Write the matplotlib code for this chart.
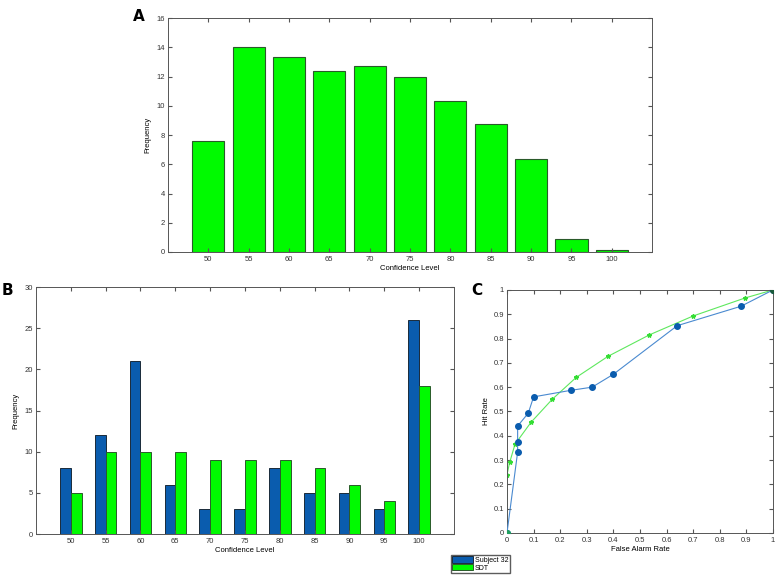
import matplotlib

matplotlib.use("Agg")
import matplotlib.pyplot as plt
import numpy as np

BLUE = "#0a5cae"
LINE_BLUE = "#4a8ad0"
GREEN = "#00fa00"
EDGE = "#2a5a2a"
AX = "#555555"

levels = ["50", "55", "60", "65", "70", "75", "80", "85", "90", "95", "100"]

# panel A: SDT-predicted frequencies
sdt_freq = [7.6, 14.0, 13.35, 12.35, 12.7, 12.0, 10.3, 8.75, 6.35, 0.9, 0.11]

# panel B: subject 32 vs SDT counts
subj_counts = [8, 12, 21, 6, 3, 3, 8, 5, 5, 3, 26]
sdt_counts = [5, 10, 10, 10, 9, 9, 9, 8, 6, 4, 18]

# panel C: ROC points
subj_far = [0, 0.04, 0.04, 0.04, 0.08, 0.10, 0.24, 0.32, 0.40, 0.64, 0.88, 1.0]
subj_hr = [0, 0.333, 0.373, 0.44, 0.493, 0.56, 0.587, 0.60, 0.653, 0.853, 0.933, 1.0]
sdt_far = [0, 0, 0.01, 0.03, 0.09, 0.17, 0.26, 0.38, 0.535, 0.70, 0.895, 1.0]
sdt_hr = [0, 0.24, 0.29, 0.365, 0.455, 0.55, 0.64, 0.727, 0.815, 0.893, 0.967, 1.0]

plt.rcParams.update(
    {
        "font.family": ["Liberation Sans", "DejaVu Sans"],
        "font.size": 5.5,
        "axes.edgecolor": AX,
        "axes.linewidth": 0.7,
        "xtick.direction": "in",
        "ytick.direction": "in",
        "xtick.top": True,
        "ytick.right": True,
        "xtick.major.size": 3,
        "ytick.major.size": 3,
        "xtick.color": AX,
        "ytick.color": AX,
        "xtick.labelcolor": "#333333",
        "ytick.labelcolor": "#333333",
        "xtick.major.pad": 3,
        "ytick.major.pad": 2,
    }
)

fig = plt.figure(figsize=(7.77, 5.76), dpi=100)
axA = fig.add_axes([0.2162, 0.5625, 0.623, 0.406])
axB = fig.add_axes([0.0463, 0.0729, 0.538, 0.4288])
axC = fig.add_axes([0.6525, 0.0747, 0.3423, 0.4219])

x = np.arange(1, len(levels) + 1)

# --- A ---
axA.bar(x, sdt_freq, width=0.8, color=GREEN, edgecolor=EDGE, linewidth=0.8)
axA.set_xlim(0, 12)
axA.set_ylim(0, 16)
axA.set_yticks(range(0, 17, 2))
axA.set_xticks(x)
axA.set_xticklabels(levels)
axA.set_xlabel("Confidence Level", labelpad=1)
axA.set_ylabel("Frequency", labelpad=4)
fig.text(0.179, 0.985, "A", fontsize=11, fontweight="bold", va="top", ha="center",
         family="DejaVu Sans")

# --- B ---
bw = 0.31
axB.bar(x - bw / 2, subj_counts, width=bw, color=BLUE, edgecolor="#1a2a3a",
        linewidth=0.7, label="Subject 32")
axB.bar(x + bw / 2, sdt_counts, width=bw, color=GREEN, edgecolor=EDGE,
        linewidth=0.7, label="SDT")
axB.set_xlim(0, 12)
axB.set_ylim(0, 30)
axB.set_yticks(range(0, 31, 5))
axB.set_xticks(x)
axB.set_xticklabels(levels)
axB.set_xlabel("Confidence Level", labelpad=1)
axB.set_ylabel("Frequency", labelpad=4)
fig.text(0.010, 0.508, "B", fontsize=11, fontweight="bold", va="top", ha="center",
         family="DejaVu Sans")

# --- C ---
axC.plot(sdt_far, sdt_hr, color="#5ee85e", lw=0.8, marker="*", ms=3.2,
         mfc="#33dd33", mec="#33dd33", zorder=2)
axC.plot(subj_far, subj_hr, color=LINE_BLUE, lw=0.8, marker="o", ms=4,
         mfc=BLUE, mec=BLUE, zorder=3)
axC.plot([0], [0], marker="o", ms=4, color="#20a060", zorder=4)
axC.plot([1], [1], marker="o", ms=4, color="#1a5a3a", zorder=4)
axC.set_xlim(0, 1)
axC.set_ylim(0, 1)
ticks = np.round(np.arange(0, 1.01, 0.1), 1)
axC.set_xticks(ticks)
axC.set_yticks(ticks)
lab = ["0"] + [f"{t:g}" for t in ticks[1:-1]] + ["1"]
axC.set_xticklabels(lab)
axC.set_yticklabels(lab)
axC.set_xlabel("False Alarm Rate", labelpad=1)
axC.set_ylabel("Hit Rate", labelpad=3)
fig.text(0.614, 0.508, "C", fontsize=11, fontweight="bold", va="top", ha="center",
         family="DejaVu Sans")

h, l = axB.get_legend_handles_labels()
fig.legend(h, l, loc="lower left", bbox_to_anchor=(0.580, 0.005), fontsize=5,
           frameon=True, fancybox=False, edgecolor="#333333", borderpad=0.2,
           handlelength=3.0, handleheight=1.0, labelspacing=0.05, handletextpad=0.3,
           borderaxespad=0)

fig.savefig("out.png", dpi=100, facecolor="white")
